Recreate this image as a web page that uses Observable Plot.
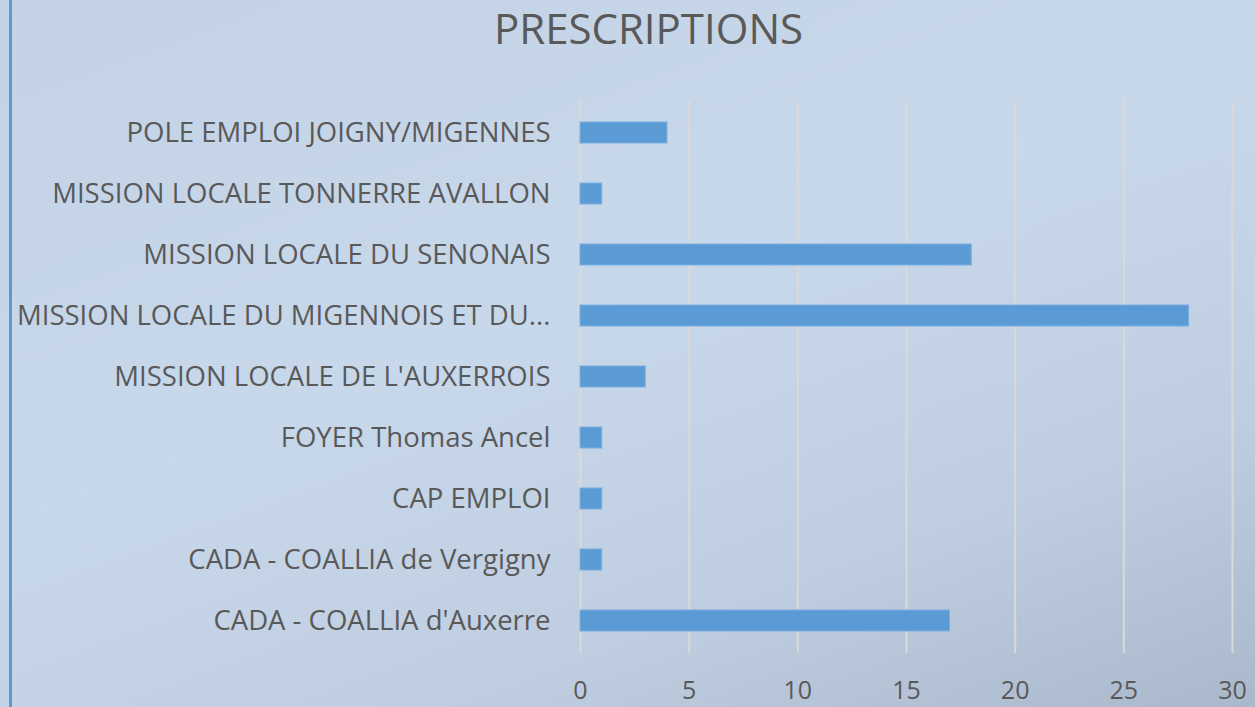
<!DOCTYPE html>
<html>
<head>
<meta charset="utf-8">
<script src="https://cdn.jsdelivr.net/npm/d3@7"></script>
<script src="https://cdn.jsdelivr.net/npm/@observablehq/plot@0.6"></script>
<style>
  html, body { margin: 0; padding: 0; }
  #wrap {
    position: relative; width: 1255px; height: 707px; overflow: hidden;
    background: linear-gradient(160deg, #c3d2e5 0%, #c8d8eb 45%, #bfcde0 75%, #aab8cc 100%);
    font-family: "Open Sans", sans-serif;
  }
  #border { position: absolute; left: 9px; top: 0; width: 3px; height: 707px; background: #5b9bd5; }
  #title {
    height: 60px; line-height: 56px; text-align: center; padding-left: 42px;
    font-size: 42px; color: #595959;
  }
  svg { display: block; background: transparent !important; }
</style>
</head>
<body>
<div id="wrap">
  <div id="border"></div>
  <div id="title">PRESCRIPTIONS</div>
  <div id="chart"></div>
</div>
<script>
const categories = [
  "POLE EMPLOI JOIGNY/MIGENNES",
  "MISSION LOCALE TONNERRE AVALLON",
  "MISSION LOCALE DU SENONAIS",
  "MISSION LOCALE DU MIGENNOIS ET DU...",
  "MISSION LOCALE DE L'AUXERROIS",
  "FOYER Thomas Ancel",
  "CAP EMPLOI",
  "CADA - COALLIA de Vergigny",
  "CADA - COALLIA d'Auxerre"
];
const values = [4, 1, 18, 28, 3, 1, 1, 1, 17];
const xTicks = [0, 5, 10, 15, 20, 25, 30];

const data = categories.map((c, i) => ({category: c, value: values[i]}));

const chart = Plot.plot({
  width: 1255,
  height: 647,
  marginLeft: 580,
  marginRight: 23,
  marginTop: 40,
  marginBottom: 54,
  style: {background: "transparent", fontFamily: "Open Sans, sans-serif", color: "#595959"},
  x: {domain: [0, 30]},
  y: {domain: categories, paddingInner: 0.65, paddingOuter: 0.33},
  marks: [
    Plot.gridX(xTicks, {stroke: "#d9d9d9", strokeOpacity: 1, strokeWidth: 2}),
    Plot.barX(data, {x: "value", y: "category", fill: "#5b9bd5", stroke: "#7aaee0", strokeWidth: 1}),
    Plot.axisX({ticks: xTicks, tickSize: 0, tickPadding: 27.5, fontSize: 25, fill: "#595959", label: null}),
    Plot.axisY({tickSize: 0, tickPadding: 30, fontSize: 27.5, fill: "#595959", label: null})
  ]
});
document.getElementById("chart").appendChild(chart);
</script>
</body>
</html>
